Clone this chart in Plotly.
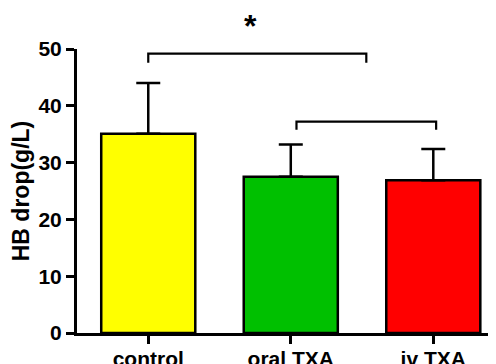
import plotly.graph_objects as go

categories = ["control", "oral TXA", "iv TXA"]
means = [35.1, 27.5, 26.9]
sds = [8.9, 5.7, 5.5]
colors = ["#FFFF00", "#00C000", "#FF0000"]
y_ticks = [0, 10, 20, 30, 40, 50]

FONT = "Liberation Sans, Arial, sans-serif"
xpos = list(range(len(categories)))

fig = go.Figure()
fig.add_trace(go.Bar(
    x=xpos, y=means, width=0.66,
    marker=dict(color=colors, line=dict(color="black", width=2.5)),
    error_y=dict(type="data", array=sds, arrayminus=[0] * len(sds), symmetric=False,
                 color="black", thickness=2.5, width=12),
))

# significance brackets
def bracket(x0, x1, ytop, ybot):
    fig.add_shape(type="path",
                  path=f"M {x0},{ybot} L {x0},{ytop} L {x1},{ytop} L {x1},{ybot}",
                  xref="x", yref="y", line=dict(color="black", width=2.2))

bracket(0, 1.53, 49.2, 47.6)
bracket(1.04, 2.02, 37.2, 35.8)
fig.add_annotation(x=0.72, y=1.08, xref="x", yref="paper", yanchor="middle",
                   text="<b>*</b>", showarrow=False,
                   font=dict(family=FONT, size=32, color="black"))

fig.update_layout(
    width=496, height=364,
    margin=dict(l=69, r=8, t=41, b=39, autoexpand=False),
    plot_bgcolor="white", paper_bgcolor="white",
    showlegend=False,
    font=dict(family=FONT, color="black"),
)
fig.update_xaxes(
    range=[-0.5, 2.44], tickvals=xpos, ticktext=[f"<b>{c}</b>" for c in categories],
    showline=True, linecolor="black", linewidth=3,
    ticks="outside", ticklen=8, tickwidth=2.5, tickcolor="black",
    tickfont=dict(family=FONT, size=21, color="black"), ticklabelstandoff=-3,
    showgrid=False, zeroline=False, automargin=False,
)
fig.update_yaxes(
    range=[0, 50], tickvals=y_ticks, ticktext=[f"<b>{v}</b>" for v in y_ticks],
    showline=True, linecolor="black", linewidth=3,
    ticks="outside", ticklen=8, tickwidth=2.5, tickcolor="black",
    tickfont=dict(family=FONT, size=21, color="black"),
    title=dict(text="<b>HB drop(g/L)</b>", font=dict(family=FONT, size=23, color="black"), standoff=6),
    showgrid=False, zeroline=False, automargin=False,
)

fig.write_html("out.html")
